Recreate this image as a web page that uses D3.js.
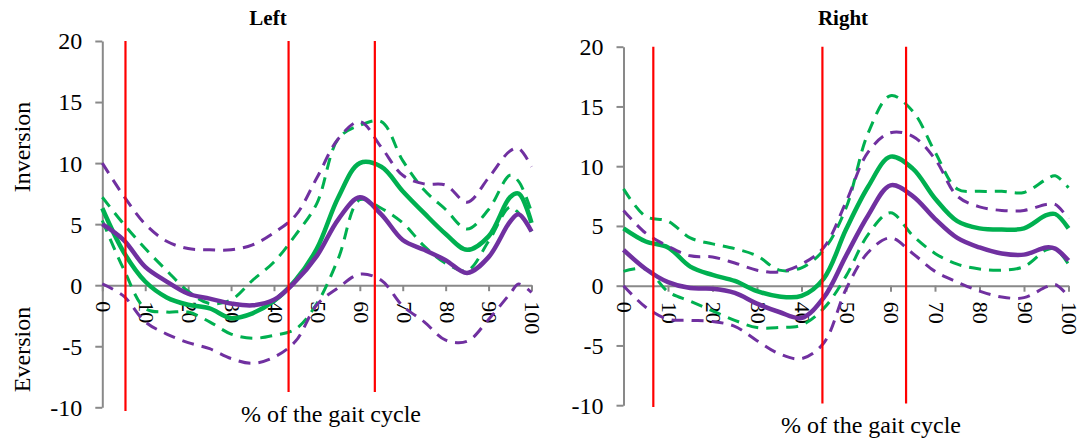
<!DOCTYPE html>
<html>
<head>
<meta charset="utf-8">
<script src="https://cdn.jsdelivr.net/npm/d3@7"></script>
<style>
  body { margin: 0; background: #fff; }
  svg { display: block; }
  text { font-family: "Liberation Serif", "Times New Roman", serif; fill: #000; }
</style>
</head>
<body>
<svg id="chart" width="1078" height="445"></svg>
<script>
// Gait cycle sample points (% of cycle)
const gaitPercent = [0, 5, 10, 15, 20, 25, 30, 35, 40, 45, 50, 55, 60, 65, 70, 75, 80, 85, 90, 95, 97, 100];

// Tick values
const yTicks = [-10, -5, 0, 5, 10, 15, 20];
const xTicks = [0, 10, 20, 30, 40, 50, 60, 70, 80, 90, 100];

// Left foot: inversion(+)/eversion(-) angle, degrees
const leftGreenMean   = [6.3, 2.7, 0.3, -1.0, -1.6, -1.9, -2.7, -2.3, -1.3, 0.4, 3.0, 7.2, 10.0, 9.7, 7.7, 5.9, 4.2, 2.9, 4.0, 7.2, 7.5, 5.1];
const leftGreenUpper  = [7.2, 5.0, 3.0, 1.2, -0.5, -1.5, -1.2, 0.4, 1.9, 4.1, 6.7, 12.0, 13.1, 13.4, 10.2, 7.8, 6.2, 4.6, 6.2, 9.0, 8.5, 6.0];
const leftGreenLower  = [5.3, 1.3, -1.9, -2.2, -2.2, -3.0, -4.0, -4.35, -4.1, -3.6, -1.5, 2.2, 7.0, 6.3, 5.1, 3.2, 1.8, 1.2, 3.6, 6.4, 5.9, 4.4];
const leftPurpleMean  = [5.0, 3.7, 1.5, 0.3, -0.7, -1.1, -1.5, -1.65, -1.2, 0.3, 2.4, 5.4, 7.2, 5.8, 3.7, 2.9, 2.05, 1.0, 2.3, 5.2, 5.8, 4.4];
const leftPurpleUpper = [10.0, 7.3, 5.0, 3.6, 3.0, 2.9, 2.9, 3.3, 4.3, 5.7, 8.8, 12.0, 13.4, 11.3, 9.0, 8.3, 8.2, 6.8, 8.8, 11.0, 11.2, 9.7];
const leftPurpleLower = [0.1, -0.9, -3.0, -4.0, -4.7, -5.2, -6.0, -6.4, -5.9, -4.6, -1.6, -0.2, 0.9, 0.4, -1.7, -3.0, -4.5, -4.6, -2.8, -0.7, 0.1, -0.6];

// Right foot
const rightGreenMean   = [4.8, 3.7, 3.2, 1.6, 0.9, 0.4, -0.45, -0.9, -0.85, 0.6, 4.7, 8.3, 10.8, 9.8, 7.3, 5.4, 4.8, 4.7, 4.8, 5.9, 6.0, 4.8];
const rightGreenUpper  = [8.1, 5.8, 5.4, 4.0, 3.5, 3.1, 2.5, 1.3, 1.5, 3.0, 6.5, 12.8, 15.9, 14.6, 11.2, 8.1, 7.9, 7.9, 7.8, 8.9, 9.2, 8.2];
const rightGreenLower  = [1.2, 1.4, -0.5, -1.3, -2.1, -2.9, -3.5, -3.5, -3.3, -1.9, 0.8, 4.3, 6.1, 4.2, 2.7, 1.8, 1.4, 1.3, 1.6, 3.0, 3.1, 1.8];
const rightPurpleMean  = [3.0, 1.4, 0.3, -0.2, -0.25, -0.6, -1.5, -2.2, -2.7, -1.0, 2.5, 5.9, 8.4, 7.5, 5.6, 4.0, 3.2, 2.7, 2.6, 3.2, 3.1, 2.1];
const rightPurpleUpper = [6.3, 4.4, 3.3, 2.5, 2.4, 1.9, 1.3, 1.15, 1.8, 3.2, 7.0, 11.2, 12.8, 12.5, 10.6, 7.5, 6.6, 6.3, 6.3, 6.8, 6.8, 5.6];
const rightPurpleLower = [0.0, -1.8, -2.8, -2.9, -3.0, -3.4, -4.6, -5.7, -6.1, -4.8, -0.3, 2.8, 4.0, 2.7, 1.2, 0.3, -0.45, -0.95, -1.0, -0.1, 0.1, -0.9];

// Gait events (% of cycle) and the lower end of each marker line (degrees)
const leftEvents  = [5.4, 43.4, 63.5];
const leftEventEnds  = [-10.3, -8.75, -8.75];
const rightEvents = [6.7, 44.7, 63.5];
const rightEventEnds = [-10.15, -9.85, -9.85];

const GREEN = "#00b050", PURPLE = "#7030a0", RED = "#ff0000", AXIS = "#898989";
const SERIF = '"Liberation Serif", "Times New Roman", serif';

const panels = [
  {
    title: "Left", xLabel: "% of the gait cycle",
    green: [leftGreenUpper, leftGreenLower, leftGreenMean],
    purple: [leftPurpleUpper, leftPurpleLower, leftPurpleMean],
    events: leftEvents, eventEnds: leftEventEnds,
    left: 102.3, right: 531.5, top: 41, bottom: 407.3,
    titleX: 268, titleY: 25, xLabelX: 331, xLabelY: 421.5, sideLabels: true
  },
  {
    title: "Right", xLabel: "% of the gait cycle",
    green: [rightGreenUpper, rightGreenLower, rightGreenMean],
    purple: [rightPurpleUpper, rightPurpleLower, rightPurpleMean],
    events: rightEvents, eventEnds: rightEventEnds,
    left: 623.5, right: 1068.5, top: 46.7, bottom: 405.2,
    titleX: 843, titleY: 25, xLabelX: 871, xLabelY: 433, sideLabels: false
  }
];

// Plain hyphen for negatives, as in the printed figure
const tickText = d => (d < 0 ? "-" + Math.abs(d) : String(d));

const svg = d3.select("#chart");
svg.append("rect").attr("width", 1078).attr("height", 445).attr("fill", "#fff");

panels.forEach(p => {
  const x = d3.scaleLinear().domain([0, 100]).range([p.left, p.right]);
  const y = d3.scaleLinear().domain([-10, 20]).range([p.bottom, p.top]);
  const g = svg.append("g");

  // Vertical axis
  const yAxis = g.append("g")
    .attr("transform", `translate(${p.left},0)`)
    .call(d3.axisLeft(y).tickValues(yTicks).tickSize(7).tickSizeOuter(0).tickPadding(13).tickFormat(tickText))
    .attr("font-family", null).attr("font-size", null);
  yAxis.select(".domain").attr("stroke", AXIS).attr("stroke-width", 2);
  yAxis.selectAll(".tick line").attr("stroke", AXIS).attr("stroke-width", 2);
  yAxis.selectAll(".tick text")
    .style("font-family", SERIF).style("font-size", "24px").attr("dy", "0.33em");

  // Horizontal axis along zero, with rotated tick labels
  const xAxis = g.append("g")
    .attr("transform", `translate(0,${y(0)})`)
    .call(d3.axisBottom(x).tickValues(xTicks).tickSize(6).tickSizeOuter(0).tickFormat(tickText))
    .attr("font-family", null).attr("font-size", null);
  xAxis.select(".domain").attr("stroke", AXIS).attr("stroke-width", 2);
  xAxis.selectAll(".tick line").attr("stroke", AXIS).attr("stroke-width", 2);
  xAxis.selectAll(".tick text")
    .style("font-family", SERIF).style("font-size", "22px")
    .attr("transform", "rotate(90)")
    .attr("text-anchor", "start")
    .attr("x", 16).attr("y", 0).attr("dy", "0.3em");

  const line = d3.line()
    .x((d, i) => x(gaitPercent[i]))
    .y(d => y(d))
    .curve(d3.curveCatmullRom.alpha(0.5));

  // Green group: ±SD dashed, mean solid
  p.green.forEach((s, i) => {
    g.append("path").datum(s).attr("d", line)
      .attr("fill", "none").attr("stroke", GREEN)
      .attr("stroke-width", i < 2 ? 3 : 4.5)
      .attr("stroke-dasharray", i < 2 ? "12,8" : null)
      .attr("stroke-linejoin", "round");
  });
  // Purple group
  p.purple.forEach((s, i) => {
    g.append("path").datum(s).attr("d", line)
      .attr("fill", "none").attr("stroke", PURPLE)
      .attr("stroke-width", i < 2 ? 3 : 4.5)
      .attr("stroke-dasharray", i < 2 ? "12,8" : null)
      .attr("stroke-linejoin", "round");
  });

  // Gait event markers
  g.selectAll(".event").data(p.events).enter().append("line")
    .attr("x1", d => x(d)).attr("x2", d => x(d))
    .attr("y1", y(20)).attr("y2", (d, i) => y(p.eventEnds[i]))
    .attr("stroke", RED).attr("stroke-width", 2.2);

  // Titles
  g.append("text").attr("x", p.titleX).attr("y", p.titleY)
    .attr("text-anchor", "middle").style("font-family", SERIF)
    .style("font-weight", "bold").style("font-size", "21px")
    .text(p.title);
  g.append("text").attr("x", p.xLabelX).attr("y", p.xLabelY)
    .attr("text-anchor", "middle").style("font-family", SERIF).style("font-size", "24px")
    .text(p.xLabel);

  if (p.sideLabels) {
    g.append("text").attr("transform", "translate(30,147) rotate(-90)")
      .attr("text-anchor", "middle").style("font-family", SERIF).style("font-size", "24px")
      .text("Inversion");
    g.append("text").attr("transform", "translate(30,349.5) rotate(-90)")
      .attr("text-anchor", "middle").style("font-family", SERIF).style("font-size", "24px")
      .text("Eversion");
  }
});
</script>
</body>
</html>
